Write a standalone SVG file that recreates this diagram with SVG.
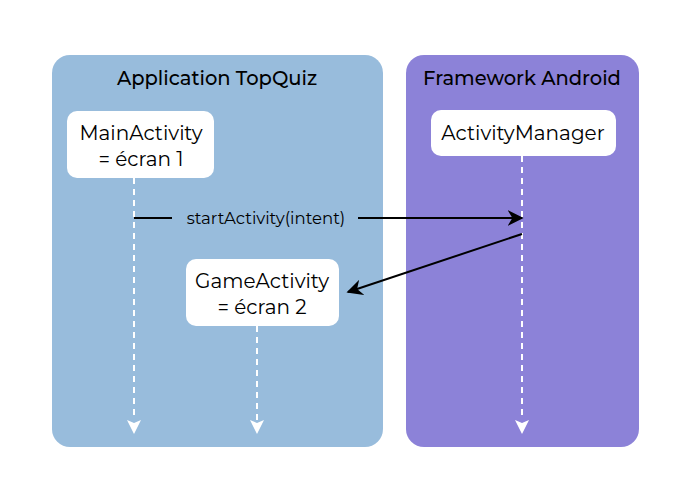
<svg xmlns="http://www.w3.org/2000/svg" width="695" height="503" viewBox="0 0 695 503">
<defs>
<style>
.t{font-family:"Montserrat","Open Sans","Liberation Sans",sans-serif;fill:#000}
.h{font-size:19.5px;font-weight:500;text-anchor:middle}
.n{font-size:20px;text-anchor:middle}
.node{fill:#fff}
.dash{stroke:#fff;stroke-width:2;stroke-dasharray:6,5;fill:none}
</style>
<marker id="b" viewBox="0 0 10 10" refX="9" refY="5" markerWidth="16" markerHeight="16" markerUnits="userSpaceOnUse" orient="auto"><path d="M0,0 L10,5 L0,10 L3,5 Z" fill="#000"/></marker>
</defs>
<rect width="695" height="503" fill="#fff"/>
<g id="app"><rect x="52" y="55" width="331" height="392" rx="18" fill="#98bcdc"/><text class="t h" x="217" y="85">Application TopQuiz</text></g>
<g id="fw"><rect x="406" y="55" width="233" height="392" rx="18" fill="#8c82d8"/><text class="t h" x="522" y="85">Framework Android</text></g>
<g id="main"><rect class="node" x="67" y="111" width="147" height="67" rx="10"/><text class="t n" x="141" y="140">MainActivity</text><text class="t n" x="141" y="166">= écran 1</text></g>
<g id="game"><rect class="node" x="186" y="259" width="153" height="67" rx="10"/><text class="t n" x="262" y="288">GameActivity</text><text class="t n" x="262" y="314">= écran 2</text></g>
<g id="am"><rect class="node" x="431" y="110" width="185" height="46" rx="10"/><text class="t n" x="523" y="140">ActivityManager</text></g>
<g id="connectors">
<path class="dash" d="M134,178 V420"/>
<path d="M127,420 L134,423 L141,420 L134,434 Z" fill="#fff"/>
<path class="dash" d="M257,326 V420"/>
<path d="M250,420 L257,423 L264,420 L257,434 Z" fill="#fff"/>
<path class="dash" d="M522,156 V420"/>
<path d="M515,420 L522,423 L529,420 L522,434 Z" fill="#fff"/>
<path d="M134,218 H172 M358,218 H522" stroke="#000" stroke-width="2" marker-end="url(#b)"/>
<text class="t" x="266" y="224" font-size="16.5" text-anchor="middle">startActivity(intent)</text>
<path d="M522,234 L348,292" stroke="#000" stroke-width="2" marker-end="url(#b)"/>
</g>
</svg>
